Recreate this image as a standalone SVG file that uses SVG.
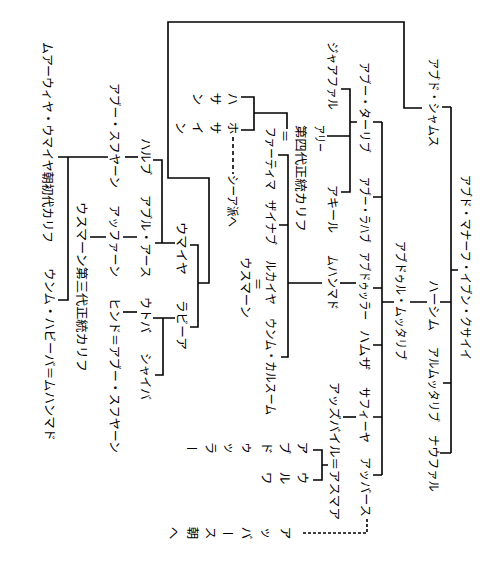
<svg xmlns="http://www.w3.org/2000/svg" width="493" height="567" viewBox="0 0 493 567">
<style>
.t{font-family:"Noto Sans CJK JP","Noto Sans CJK SC",sans-serif;font-size:12.5px;fill:#000;dominant-baseline:central}
.v{text-anchor:middle}
.c{fill:none;stroke:#000;stroke-width:1.6}
.dash{stroke-dasharray:4 3}
.dot{stroke-dasharray:3 2}
</style>
<rect width="493" height="567" fill="#fff"/>
<g id="connectors" class="c">
<path d="M422,108H404V22H168V178H209V283H198"/>
<path d="M190,245H198V327H190"/>
<path d="M153,160H162V243M155,243H175"/>
<path d="M153,318H175M163,318V375H155"/>
<path d="M125,157H138"/>
<path d="M108,157H58M68,157V300H58"/>
<path d="M123,237H137M90,237H106"/>
<path d="M123,312H137"/>
<path d="M451,107V453M442,107H451M451,270H458M440,302H451M443,383H451M440,453H451"/>
<path d="M410,302H427M394,302H382"/>
<path d="M382,122V475M373,122H382M373,197H382M373,288H382M373,345H382M373,417H382M373,475H382"/>
<path d="M357,122H350M341,89H350V192H341M327,136H350"/>
<path d="M340,283H356"/>
<path d="M322,283H288M278,155H288V357H281M279,225H288"/>
<path d="M287,129V113H254M241,97H254V130H241"/>
<path d="M343,417H356"/>
<path d="M328,465H322M313,450H322V480H313"/>
<path class="dot" d="M367,519V533H302"/>
<path class="dash" d="M233,137V174"/>
</g>
<g id="abd-manaf"><text class="t" transform="translate(466,175) rotate(90)" textLength="185" lengthAdjust="spacingAndGlyphs">アブド・マナーフ・イブン・クサイイ</text></g>
<g id="abd-shams"><text class="t" transform="translate(434,58) rotate(90)" textLength="89" lengthAdjust="spacingAndGlyphs">アブド・シャムス</text></g>
<g id="hashim"><text class="t" transform="translate(434,280) rotate(90)" textLength="51" lengthAdjust="spacingAndGlyphs">ハーシム</text></g>
<g id="al-muttalib"><text class="t" transform="translate(434,347) rotate(90)" textLength="75" lengthAdjust="spacingAndGlyphs">アルムッタリブ</text></g>
<g id="nawfal"><text class="t" transform="translate(434,435) rotate(90)" textLength="57" lengthAdjust="spacingAndGlyphs">ナウファル</text></g>
<g id="abd-al-muttalib"><text class="t" transform="translate(401,241) rotate(90)" textLength="119" lengthAdjust="spacingAndGlyphs">アブドゥル・ムッタリブ</text></g>
<g id="abu-talib"><text class="t" transform="translate(365,62) rotate(90)" textLength="91" lengthAdjust="spacingAndGlyphs">アブー・ターリブ</text></g>
<g id="abu-lahab"><text class="t" transform="translate(365,177) rotate(90)" textLength="66" lengthAdjust="spacingAndGlyphs">アブー・ラハブ</text></g>
<g id="abdullah"><text class="t" transform="translate(365,252) rotate(90)" textLength="68" lengthAdjust="spacingAndGlyphs">アブドゥッラー</text></g>
<g id="hamza"><text class="t" transform="translate(365,330) rotate(90)" textLength="40" lengthAdjust="spacingAndGlyphs">ハムザ</text></g>
<g id="safiyya"><text class="t" transform="translate(365,387) rotate(90)" textLength="56" lengthAdjust="spacingAndGlyphs">サフィーヤ</text></g>
<g id="abbas"><text class="t" transform="translate(366,457) rotate(90)" textLength="60" lengthAdjust="spacingAndGlyphs">アッバース</text></g>
<g id="jafar"><text class="t" transform="translate(333,42) rotate(90)" textLength="68" lengthAdjust="spacingAndGlyphs">ジャアファル</text></g>
<g id="ali"><text class="t" transform="translate(320,125) rotate(90)" textLength="27" lengthAdjust="spacingAndGlyphs">アリー</text><text class="t" transform="translate(301,125) rotate(90)" textLength="107" lengthAdjust="spacingAndGlyphs">第四代正統カリフ</text></g>
<g id="aqil"><text class="t" transform="translate(333,185) rotate(90)" textLength="48" lengthAdjust="spacingAndGlyphs">アキール</text></g>
<g id="muhammad"><text class="t" transform="translate(333,255) rotate(90)" textLength="55" lengthAdjust="spacingAndGlyphs">ムハンマド</text></g>
<g id="zubayr"><text class="t" transform="translate(335,382) rotate(90)" textLength="138" lengthAdjust="spacingAndGlyphs">アッズバイル＝アスマア</text></g>
<g id="fatima"><text class="t" transform="translate(271,127) rotate(90)" textLength="63" lengthAdjust="spacingAndGlyphs">ファーティマ</text><text class="t" transform="translate(285,136) rotate(90)" text-anchor="middle">＝</text></g>
<g id="zaynab"><text class="t" transform="translate(271,200) rotate(90)" textLength="45" lengthAdjust="spacingAndGlyphs">ザイナブ</text></g>
<g id="ruqayya"><text class="t" transform="translate(271,260) rotate(90)" textLength="45" lengthAdjust="spacingAndGlyphs">ルカイヤ</text><text class="t" transform="translate(258,284) rotate(90)" text-anchor="middle">＝</text></g>
<g id="umm-kulthum"><text class="t" transform="translate(271,318) rotate(90)" textLength="97" lengthAdjust="spacingAndGlyphs">ウンム・カルスーム</text></g>
<g id="uthman-spouse"><text class="t" transform="translate(246,257) rotate(90)" textLength="61" lengthAdjust="spacingAndGlyphs">ウスマーン</text></g>
<g id="hasan">
<text class="t v" transform="translate(233,99) rotate(90)">ハ</text>
<text class="t v" transform="translate(216,99) rotate(90)">サ</text>
<text class="t v" transform="translate(198,99) rotate(90)">ン</text>
</g>
<g id="husayn">
<text class="t v" transform="translate(233,128) rotate(90)">ホ</text>
<text class="t v" transform="translate(216,128) rotate(90)">サ</text>
<text class="t v" transform="translate(198,128) rotate(90)">イ</text>
<text class="t v" transform="translate(181,128) rotate(90)">ン</text>
</g>
<g id="shia"><text class="t" transform="translate(233,175) rotate(90)" textLength="52" lengthAdjust="spacingAndGlyphs">シーア派へ</text></g>
<g id="abdullah-zubayr">
<text class="t v" transform="translate(303,448) rotate(90)">ア</text>
<text class="t v" transform="translate(285,448) rotate(90)">ブ</text>
<text class="t v" transform="translate(267,448) rotate(90)">ド</text>
<text class="t v" transform="translate(248,448) rotate(90)">ゥ</text>
<text class="t v" transform="translate(230,448) rotate(90)">ッ</text>
<text class="t v" transform="translate(211,448) rotate(90)">ラ</text>
<text class="t v" transform="translate(192,448)">ー</text>
</g>
<g id="urwa">
<text class="t v" transform="translate(303,478) rotate(90)">ウ</text>
<text class="t v" transform="translate(285,478) rotate(90)">ル</text>
<text class="t v" transform="translate(267,478) rotate(90)">ワ</text>
</g>
<g id="abbasid">
<text class="t v" transform="translate(286,533) rotate(90)">ア</text>
<text class="t v" transform="translate(267,533) rotate(90)">ッ</text>
<text class="t v" transform="translate(247,533) rotate(90)">バ</text>
<text class="t v" transform="translate(228,533)">ー</text>
<text class="t v" transform="translate(211,533) rotate(90)">ス</text>
<text class="t v" transform="translate(193,533) rotate(90)">朝</text>
<text class="t v" transform="translate(174,533) rotate(90)">へ</text>
</g>
<g id="umayya"><text class="t" transform="translate(182,222) rotate(90)" textLength="53" lengthAdjust="spacingAndGlyphs">ウマイヤ</text></g>
<g id="rabia"><text class="t" transform="translate(182,300) rotate(90)" textLength="50" lengthAdjust="spacingAndGlyphs">ラビーア</text></g>
<g id="harb"><text class="t" transform="translate(146,138) rotate(90)" textLength="37" lengthAdjust="spacingAndGlyphs">ハルブ</text></g>
<g id="abu-al-as"><text class="t" transform="translate(146,195) rotate(90)" textLength="83" lengthAdjust="spacingAndGlyphs">アブル・アース</text></g>
<g id="utba"><text class="t" transform="translate(146,297) rotate(90)" textLength="36" lengthAdjust="spacingAndGlyphs">ウトバ</text></g>
<g id="shayba"><text class="t" transform="translate(146,353) rotate(90)" textLength="47" lengthAdjust="spacingAndGlyphs">シャイバ</text></g>
<g id="abu-sufyan"><text class="t" transform="translate(115,83) rotate(90)" textLength="105" lengthAdjust="spacingAndGlyphs">アブー・スフヤーン</text></g>
<g id="affan"><text class="t" transform="translate(115,205) rotate(90)" textLength="72" lengthAdjust="spacingAndGlyphs">アッファーン</text></g>
<g id="hind"><text class="t" transform="translate(115,298) rotate(90)" textLength="155" lengthAdjust="spacingAndGlyphs">ヒンド＝アブー・スフヤーン</text></g>
<g id="uthman"><text class="t" transform="translate(82,202) rotate(90)" textLength="170" lengthAdjust="spacingAndGlyphs">ウスマーン第三代正統カリフ</text></g>
<g id="muawiya"><text class="t" transform="translate(48,42) rotate(90)" textLength="201" lengthAdjust="spacingAndGlyphs">ムアーウィヤ・ウマイヤ朝初代カリフ</text></g>
<g id="umm-habiba"><text class="t" transform="translate(50,268) rotate(90)" textLength="173" lengthAdjust="spacingAndGlyphs">ウンム・ハビーバ＝ムハンマド</text></g>
</svg>
